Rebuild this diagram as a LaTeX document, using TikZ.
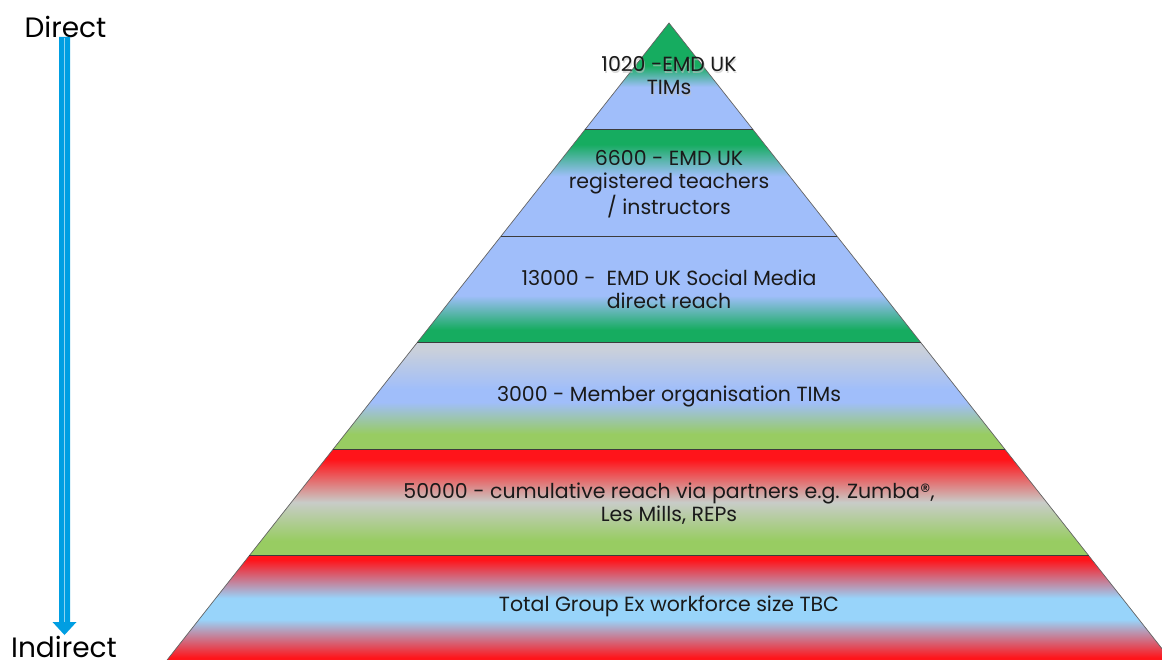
\documentclass[tikz,border=0pt]{standalone}
\usepackage{fontspec}
\setmainfont{Poppins}
\definecolor{grn}{RGB}{22,172,96}
\definecolor{blu}{RGB}{160,190,250}
\definecolor{lgr}{RGB}{152,204,98}
\definecolor{gry}{RGB}{202,208,218}
\definecolor{gry2}{RGB}{200,204,200}
\definecolor{red}{RGB}{255,20,26}
\definecolor{sky}{RGB}{152,212,250}
\definecolor{edge}{RGB}{60,60,60}
\definecolor{ink}{RGB}{26,26,26}
\definecolor{arrowblue}{RGB}{0,158,226}
% vertical shadings: 25bp = bottom of the band, 75bp = top of the band
\pgfdeclareverticalshading{band1}{100bp}{color(0bp)=(blu); color(45bp)=(blu); color(55bp)=(grn); color(100bp)=(grn)}
\pgfdeclareverticalshading{band2}{100bp}{color(0bp)=(blu); color(53bp)=(blu); color(68bp)=(grn); color(100bp)=(grn)}
\pgfdeclareverticalshading{band3}{100bp}{color(0bp)=(grn); color(31bp)=(grn); color(47bp)=(blu); color(100bp)=(blu)}
\pgfdeclareverticalshading{band4}{100bp}{color(0bp)=(lgr); color(32bp)=(lgr); color(47bp)=(blu); color(53bp)=(blu); color(72bp)=(gry); color(100bp)=(gry)}
\pgfdeclareverticalshading{band5}{100bp}{color(0bp)=(lgr); color(32bp)=(lgr); color(50bp)=(gry2); color(70bp)=(red); color(100bp)=(red)}
\pgfdeclareverticalshading{band6}{100bp}{color(0bp)=(red); color(27bp)=(red); color(45bp)=(sky); color(55bp)=(sky); color(73bp)=(red); color(100bp)=(red)}
\tikzset{
  sep/.style={draw=edge, line width=0.9pt},
  side/.style={draw=edge!80, line width=0.7pt},
  lbl/.style={font=\fontsize{20.5}{23}\selectfont, align=center, text=ink, inner sep=0pt},
  axislbl/.style={font=\fontsize{28}{30}\selectfont, text=black, inner sep=0pt, anchor=base},
}
\begin{document}
\begin{tikzpicture}[x=1pt,y=1pt]
\useasboundingbox (0,0) rectangle (1162,-660);
\clip (0,0) rectangle (1162,-660);
% pyramid corner points
\coordinate (apex) at (669,-23);
\coordinate (l1) at (585.1,-129.5); \coordinate (r1) at (752.9,-129.5);
\coordinate (l2) at (501.2,-236);   \coordinate (r2) at (836.8,-236);
\coordinate (l3) at (417.2,-342.5); \coordinate (r3) at (920.8,-342.5);
\coordinate (l4) at (333.3,-449);   \coordinate (r4) at (1004.7,-449);
\coordinate (l5) at (249.4,-555.5); \coordinate (r5) at (1088.6,-555.5);
\coordinate (l6) at (165.5,-662);   \coordinate (r6) at (1172.5,-662);
% bands
\shade[shading=band1] (apex) -- (r1) -- (l1) -- cycle;
\shade[shading=band2] (l1) -- (r1) -- (r2) -- (l2) -- cycle;
\shade[shading=band3] (l2) -- (r2) -- (r3) -- (l3) -- cycle;
\shade[shading=band4] (l3) -- (r3) -- (r4) -- (l4) -- cycle;
\shade[shading=band5] (l4) -- (r4) -- (r5) -- (l5) -- cycle;
\shade[shading=band6] (l5) -- (r5) -- (r6) -- (l6) -- cycle;
% outline
\draw[side] (l6) -- (apex) -- (r6);
\foreach \i in {1,...,5} \draw[sep] (l\i) -- (r\i);
% labels
\node[lbl, text=black!25, opacity=0.6] at (670,-77.5) {1020 -EMD UK\\TIMs};
\node[lbl] (t1) at (669,-76) {1020 -EMD UK\\TIMs};
\node[lbl] (t2) at (669,-184) {6600 - EMD UK\\registered teachers\\/ instructors};
\node[lbl] (t3) at (669,-289) {13000 -\ \ EMD UK Social Media\\direct reach};
\node[lbl] (t4) at (669,-396) {3000 - Member organisation TIMs};
\node[lbl] (t5) at (669,-504) {50000 - cumulative reach via partners e.g. Zumba®,\\Les Mills, REPs};
\node[lbl] (t6) at (669,-606) {Total Group Ex workforce size TBC};
% direction axis
\node[axislbl] (direct) at (65.5,-37.7) {Direct};
\node[axislbl] (indirect) at (64,-657) {Indirect};
\coordinate (atop) at (64.5,-37);
\coordinate (abot) at (64.5,-635);
\fill[arrowblue] ([xshift=-5.5pt]atop) -- ([xshift=5.5pt]atop) -- ([xshift=5.5pt,yshift=13pt]abot)
  -- ([xshift=12pt,yshift=13pt]abot) -- (abot) -- ([xshift=-12pt,yshift=13pt]abot)
  -- ([xshift=-5.5pt,yshift=13pt]abot) -- cycle;
\draw[white, opacity=0.55, line width=0.7pt] ([xshift=-0.5pt,yshift=-1pt]atop) -- ([xshift=-0.5pt,yshift=13pt]abot);
\end{tikzpicture}
\end{document}
